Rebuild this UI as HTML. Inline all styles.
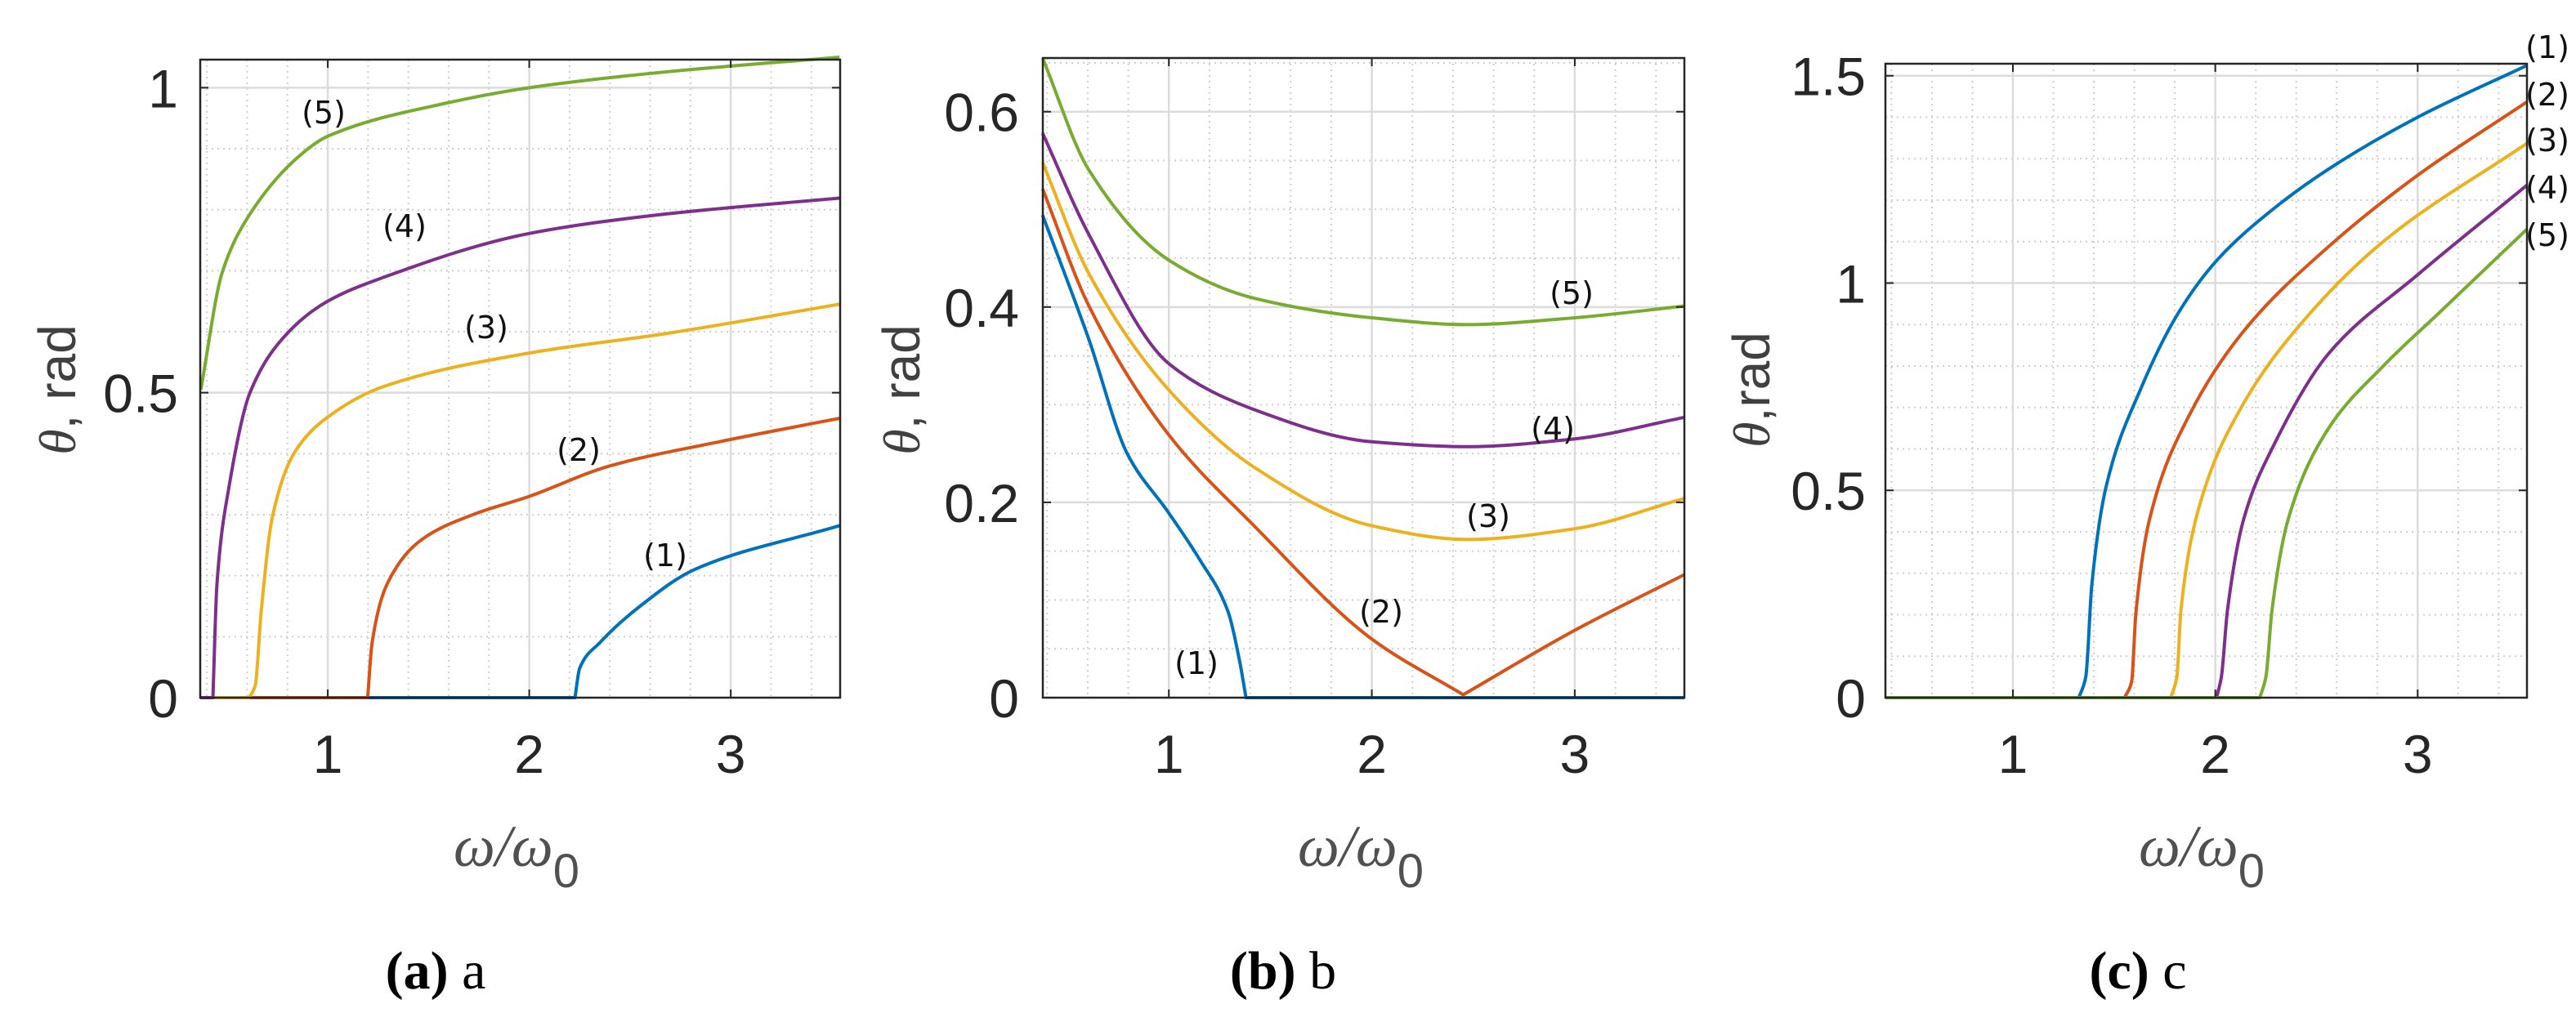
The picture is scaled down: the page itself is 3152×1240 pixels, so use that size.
<!DOCTYPE html>
<html><head><meta charset="utf-8">
<style>
html,body{margin:0;padding:0;background:#fff;}
svg{display:block;}
</style></head>
<body>
<svg id="fig" width="3152" height="1240" xmlns="http://www.w3.org/2000/svg"></svg>
<script>
// ---- Panel a data ----
const aX1=[2.227,2.25,2.35,2.55,2.82,3.54];
const aY1=[0,0.048,0.09,0.15,0.21,0.282];
const aX2=[1.198,1.22,1.30,1.47,1.72,2.0,2.40,2.95,3.54];
const aY2=[0,0.09,0.19,0.26,0.30,0.33,0.38,0.42,0.458];
const aX3=[0.61,0.64,0.67,0.725,0.835,1.0,1.276,2.0,2.68,3.54];
const aY3=[0,0.02,0.143,0.296,0.402,0.46,0.51,0.565,0.597,0.645];
const aX4=[0.43,0.45,0.51,0.614,0.807,1.0,1.276,2.0,2.68,3.54];
const aY4=[0,0.186,0.346,0.50,0.60,0.65,0.689,0.761,0.793,0.819];
const aX5=[0.37,0.476,0.614,0.862,0.997,1.578,2.0,2.68,3.54];
const aY5=[0.505,0.697,0.793,0.889,0.92,0.974,1.0,1.026,1.05];
// ---- Panel b data ----
const bX1=[0.378,0.604,0.797,1.0,1.15,1.29,1.35,1.38];
const bY1=[0.494,0.368,0.249,0.189,0.142,0.089,0.036,0];
const bX2=[0.378,0.604,1.0,1.42,2.0,2.45,3.0,3.54];
const bY2=[0.521,0.402,0.269,0.176,0.06,0.003,0.069,0.126];
const bX3=[0.378,0.604,1.0,1.42,2.0,2.47,3.0,3.54];
const bY3=[0.548,0.435,0.315,0.236,0.176,0.162,0.173,0.204];
const bX4=[0.378,0.604,1.0,1.42,2.0,2.47,3.0,3.54];
const bY4=[0.578,0.475,0.342,0.295,0.262,0.257,0.265,0.287];
const bX5=[0.378,0.604,1.0,1.42,2.0,2.47,3.0,3.54];
const bY5=[0.655,0.541,0.448,0.409,0.389,0.382,0.389,0.401];
// ---- Panel c data ----
const cX1=[1.326,1.36,1.39,1.46,1.63,1.82,2.01,2.29,2.56,3.0,3.54];
const cY1=[0,0.05,0.273,0.508,0.743,0.93,1.056,1.18,1.275,1.4,1.525];
const cX2=[1.552,1.587,1.607,1.675,1.87,2.14,2.56,3.0,3.54];
const cY2=[0,0.04,0.2,0.43,0.68,0.884,1.088,1.26,1.437];
const cX3=[1.78,1.81,1.83,1.92,2.14,2.42,2.83,3.54];
const cY3=[0,0.05,0.21,0.46,0.71,0.9,1.1,1.337];
const cX4=[2.006,2.03,2.06,2.14,2.29,2.56,3.0,3.54];
const cY4=[0,0.05,0.21,0.43,0.61,0.83,1.02,1.236];
const cX5=[2.22,2.25,2.28,2.36,2.56,2.83,3.11,3.54];
const cY5=[0,0.05,0.21,0.43,0.65,0.8,0.93,1.13];
const xTicks=[1,2,3];
const aYTicks=[0,0.5,1];const aYTickLabels=["0","0.5","1"];
const bYTicks=[0,0.2,0.4,0.6];const bYTickLabels=["0","0.2","0.4","0.6"];
const cYTicks=[0,0.5,1,1.5];const cYTickLabels=["0","0.5","1","1.5"];
const seriesLabels=["(1)","(2)","(3)","(4)","(5)"];

const colors=["#0072BD","#D95319","#EDB120","#7E2F8E","#77AC30"];
const NS="http://www.w3.org/2000/svg";
const svg=document.getElementById('fig');
function el(tag,attrs,parent,text){const e=document.createElementNS(NS,tag);for(const k in attrs)e.setAttribute(k,attrs[k]);if(text!==undefined)e.textContent=text;(parent||svg).appendChild(e);return e;}

function monoSeg(pts){
  const n=pts.length;if(n<2)return '';
  const dx=[],dy=[],m=[];
  for(let i=0;i<n-1;i++){dx.push(pts[i+1][0]-pts[i][0]);dy.push(pts[i+1][1]-pts[i][1]);m.push(dy[i]/dx[i]);}
  const t=[m[0]];
  for(let i=1;i<n-1;i++){t.push(m[i-1]*m[i]<=0?0:(3*(dx[i-1]+dx[i]))/((2*dx[i]+dx[i-1])/m[i-1]+(dx[i]+2*dx[i-1])/m[i]));}
  t.push(m[n-2]);
  let d='';
  for(let i=0;i<n-1;i++){const h=dx[i];d+=' C'+(pts[i][0]+h/3)+','+(pts[i][1]+t[i]*h/3)+' '+(pts[i+1][0]-h/3)+','+(pts[i+1][1]-t[i+1]*h/3)+' '+pts[i+1][0]+','+pts[i+1][1];}
  return d;
}

function panel(cfg){
  const g=el('g',{},svg);
  
  
  const {L,R,T,B,x0,x1,y0,y1}=cfg;
  const sx=v=>L+(v-x0)/(x1-x0)*(R-L);
  const sy=v=>B-(v-y0)/(y1-y0)*(B-T);
  // minor grid
  const mg=el('g',{stroke:'#cfcfcf','stroke-width':2,'stroke-dasharray':'2,5'},g);
  
  for(let v=Math.ceil(x0/0.2)*0.2;v<x1;v+=0.2){el('line',{x1:sx(v),x2:sx(v),y1:T,y2:B},mg);}
  for(let v=Math.ceil(y0/cfg.ym)*cfg.ym;v<y1;v+=cfg.ym){el('line',{x1:L,x2:R,y1:sy(v),y2:sy(v)},mg);}
  // major grid
  const gg=el('g',{stroke:'#dcdcdc','stroke-width':2.5},g);
  
  xTicks.forEach(v=>el('line',{x1:sx(v),x2:sx(v),y1:T,y2:B},gg));
  cfg.yt.forEach(v=>el('line',{x1:L,x2:R,y1:sy(v),y2:sy(v)},gg));
  // series
  cfg.series.forEach((s,i)=>{
    const pts=s[0].map((x,j)=>[sx(x),sy(s[1][j])]);
    let path='';
    if(s[1][0]===0 && cfg.zeroStart) path='M'+L+','+sy(0)+' L'+pts[0][0]+','+pts[0][1];
    else path='M'+pts[0][0]+','+pts[0][1];
    const br=(cfg.breaks&&cfg.breaks[i])||null;
    if(br){path+=monoSeg(pts.slice(0,br+1))+monoSeg(pts.slice(br));}
    else path+=monoSeg(pts);
    if(cfg.zeroEnd && s[1][s[1].length-1]===0) path+=' L'+R+','+sy(0);
    const p=el('path',{d:path,fill:'none',stroke:colors[i],'stroke-width':4,'stroke-linejoin':'round'},g);
    
    
  });
  // axes box
  const bx=el('rect',{x:L,y:T,width:R-L,height:B-T,fill:'none',stroke:'#262626','stroke-width':2.5},g);
  
  const tk=el('g',{stroke:'#262626','stroke-width':2},g);
  xTicks.forEach(v=>{el('line',{x1:sx(v),x2:sx(v),y1:B,y2:B-10},tk);el('line',{x1:sx(v),x2:sx(v),y1:T,y2:T+10},tk);});
  cfg.yt.forEach(v=>{el('line',{x1:L,x2:L+10,y1:sy(v),y2:sy(v)},tk);el('line',{x1:R,x2:R-10,y1:sy(v),y2:sy(v)},tk);});
  // tick labels
  xTicks.forEach(v=>{const t=el('text',{x:sx(v),y:946,'text-anchor':'middle','font-family':'Liberation Sans, sans-serif','font-size':66,fill:'#262626'},g,String(v));
    });
  cfg.yt.forEach((v,i)=>{const t=el('text',{x:cfg.ytx,y:sy(v)+24,'text-anchor':'end','font-family':'Liberation Sans, sans-serif','font-size':66,fill:'#262626'},g,cfg.ytl[i]);
    });
  // axis labels
  const yl=el('text',{transform:'translate('+cfg.ylx+',477) rotate(-90)','text-anchor':'middle','font-family':'Liberation Sans, sans-serif','font-size':64,fill:'#404040'},g);
  
  el('tspan',{'font-style':'italic','font-family':'Liberation Serif, serif'},yl,'θ');
  el('tspan',{},yl,cfg.ysep+'rad');
  const xl=el('text',{x:cfg.xlx,y:1060,'text-anchor':'middle','font-family':'Liberation Serif, serif','font-style':'italic','font-size':72,fill:'#505050'},g);
  
  el('tspan',{},xl,'ω/ω');
  el('tspan',{dy:26,'font-style':'normal','font-family':'Liberation Sans, sans-serif','font-size':58},xl,'0');
  // series labels
  cfg.labels.forEach((p,i)=>{const t=el('text',{x:p[0],y:p[1]+14,'text-anchor':'middle','font-family':'DejaVu Sans, sans-serif','font-size':38,fill:'#111'},g,seriesLabels[i]);
    });
  // caption
  const c=el('text',{x:cfg.capx,y:1210,'text-anchor':'middle','font-family':'Liberation Serif, serif','font-size':66,fill:'#000'},g);
  
  el('tspan',{'font-weight':'bold'},c,'('+cfg.cap+')');
  el('tspan',{},c,' '+cfg.cap);
}

panel({name:'panel-a',L:245,R:1028,T:73,B:854,x0:0.367,x1:3.543,y0:0,y1:1.046,ym:0.1,yt:aYTicks,ytl:aYTickLabels,ytx:218,ylx:92,ysep:', ',xlx:632,capx:533,cap:'a',zeroStart:true,zeroEnd:false,
  series:[[aX1,aY1],[aX2,aY2],[aX3,aY3],[aX4,aY4],[aX5,aY5]],
  labels:[[814,679],[708,550],[595,400],[495,276],[396,137]]});
panel({name:'panel-b',L:1276,R:2061,T:71,B:854,x0:0.379,x1:3.54,y0:0,y1:0.655,ym:0.05,yt:bYTicks,ytl:bYTickLabels,ytx:1247,ylx:1125,ysep:', ',xlx:1665,capx:1570,cap:'b',zeroStart:false,zeroEnd:true,breaks:[null,5,null,null,null],
  series:[[bX1,bY1],[bX2,bY2],[bX3,bY3],[bX4,bY4],[bX5,bY5]],
  labels:[[1464,811],[1690,748],[1821,631],[1900,524],[1923,358]]});
panel({name:'panel-c',L:2307,R:3092,T:78,B:854,x0:0.37,x1:3.54,y0:0,y1:1.529,ym:0.1,yt:cYTicks,ytl:cYTickLabels,ytx:2283,ylx:2165,ysep:',',xlx:2694,capx:2616,cap:'c',zeroStart:true,zeroEnd:false,
  series:[[cX1,cY1],[cX2,cY2],[cX3,cY3],[cX4,cY4],[cX5,cY5]],
  labels:[[3117,57],[3117,115],[3117,171],[3117,229],[3117,287]]});
</script>
</body></html>
